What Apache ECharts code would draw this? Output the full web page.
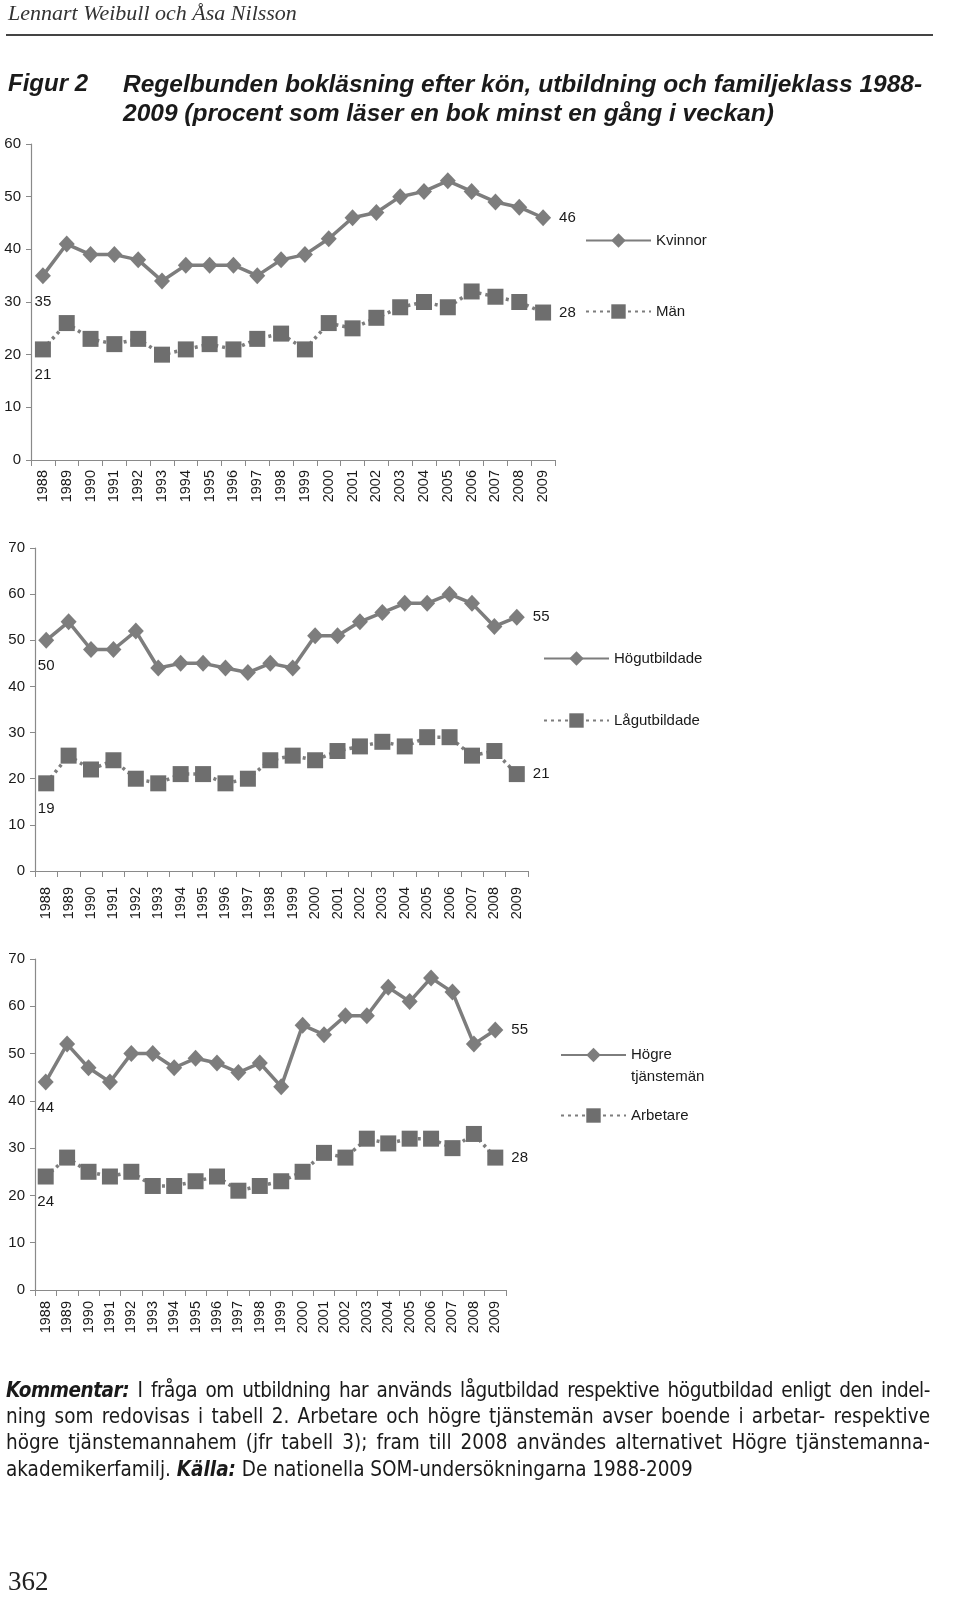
<!DOCTYPE html>
<html>
<head>
<meta charset="utf-8">
<script src="https://cdn.jsdelivr.net/npm/echarts@6/dist/echarts.min.js"></script>
<style>
  html, body { margin:0; padding:0; background:#fff; }
  #page { position:relative; width:960px; height:1609px; overflow:hidden; }
  #chart { position:absolute; left:0; top:0; width:960px; height:1609px; }
  .txt { position:absolute; color:#1a1a1a; }
  #author { left:8px; top:0px; font-family:"Liberation Serif","DejaVu Serif",serif; font-style:italic; font-size:22px; color:#333; }
  #rule { position:absolute; left:6px; top:34px; width:927px; height:2px; background:#444; }
  #fig { left:8px; top:69px; font-family:"Liberation Sans","Arial",sans-serif; font-weight:bold; font-style:italic; font-size:24px; }
  #title { left:123px; top:69px; width:830px; font-family:"Liberation Sans","Arial",sans-serif; font-weight:bold; font-style:italic; font-size:24.5px; line-height:29px; }
  #comment { left:6px; top:1377px; width:924px; font-family:"DejaVu Sans Condensed","Liberation Sans",sans-serif; font-size:20.5px; line-height:26.2px; }
  #comment div { white-space:nowrap; text-align:justify; text-align-last:justify; }
  #comment div.first { letter-spacing:-0.45px; }
  #comment div.last { text-align-last:left; }
  #comment b { font-style:italic; }
  #pageno { left:8px; top:1566px; font-family:"Liberation Serif","DejaVu Serif",serif; font-size:27px; color:#222; }
</style>
</head>
<body>
<div id="page">
  <div id="chart"></div>
  <div id="author" class="txt">Lennart Weibull och Åsa Nilsson</div>
  <div id="rule"></div>
  <div id="fig" class="txt">Figur 2</div>
  <div id="title" class="txt">Regelbunden bokläsning efter kön, utbildning och familjeklass 1988-<br>2009 (procent som läser en bok minst en gång i veckan)</div>
  <div id="comment" class="txt">
    <div class="first"><b>Kommentar:</b> I fråga om utbildning har används lågutbildad respektive högutbildad enligt den indel-</div>
    <div>ning som redovisas i tabell 2. Arbetare och högre tjänstemän avser boende i arbetar- respektive</div>
    <div>högre tjänstemannahem (jfr tabell 3); fram till 2008 användes alternativet Högre tjänstemanna-</div>
    <div class="last">akademikerfamilj. <b>Källa:</b> De nationella SOM-undersökningarna 1988-2009</div>
  </div>
  <div id="pageno" class="txt">362</div>
</div>
<script>
const years = ['1988','1989','1990','1991','1992','1993','1994','1995','1996','1997','1998','1999','2000','2001','2002','2003','2004','2005','2006','2007','2008','2009'];
const kvinnor = [35,41,39,39,38,34,37,37,37,35,38,39,42,46,47,50,51,53,51,49,48,46];
const man = [21,26,23,22,23,20,21,22,21,23,24,21,26,25,27,29,30,29,32,31,30,28];
const hogutbildade = [50,54,48,48,52,44,45,45,44,43,45,44,51,51,54,56,58,58,60,58,53,55];
const lagutbildade = [19,25,22,24,20,19,21,21,19,20,24,25,24,26,27,28,27,29,29,25,26,21];
const hogreTjansteman = [44,52,47,44,50,50,47,49,48,46,48,43,56,54,58,58,64,61,66,63,52,55];
const arbetare = [24,28,25,24,25,22,22,23,24,21,22,23,25,29,28,32,31,32,32,30,33,28];
const yMax = [60, 70, 70];

const LINE = '#7d7d7d';
const MARK = '#6e6e6e';
const FONT = '"Liberation Sans", Arial, sans-serif';

function withEndLabels(arr) {
  const n = arr.length;
  return arr.map((v, i) => {
    if (i === 0) return { value: v, label: { show: true, position: 'bottom', distance: 10 } };
    if (i === n - 1) return { value: v, label: { show: true, position: 'right', distance: 8 } };
    return v;
  });
}

const grids = [
  { left: 31, top: 144, width: 524, height: 316 },
  { left: 35, top: 548, width: 493, height: 323 },
  { left: 35, top: 959, width: 471, height: 331 }
];
const labelMargins = [10, 16, 11];

const xAxes = grids.map((g, i) => ({
  type: 'category', gridIndex: i, data: years, boundaryGap: true,
  axisLine: { lineStyle: { color: '#8a8a8a', width: 1.2 } },
  axisTick: { show: true, length: 6, lineStyle: { color: '#8a8a8a' } },
  axisLabel: { rotate: 90, interval: 0, margin: labelMargins[i], fontSize: 14.5, color: '#1a1a1a', fontFamily: FONT }
}));
const yAxes = grids.map((g, i) => ({
  type: 'value', gridIndex: i, min: 0, max: yMax[i], interval: 10,
  splitLine: { show: false },
  axisLine: { show: true, lineStyle: { color: '#8a8a8a', width: 1.2 } },
  axisTick: { show: true, length: 5, lineStyle: { color: '#8a8a8a' } },
  axisLabel: { margin: 10, fontSize: 15, color: '#1a1a1a', fontFamily: FONT }
}));

function solid(name, data, idx) {
  return {
    name, type: 'line', xAxisIndex: idx, yAxisIndex: idx, data: withEndLabels(data),
    symbol: 'diamond', symbolSize: [16, 17],
    lineStyle: { color: LINE, width: 3.5 },
    itemStyle: { color: LINE },
    label: { show: false, fontSize: 15, color: '#1a1a1a', fontFamily: FONT },
    animation: false, z: 3
  };
}
function dotted(name, data, idx) {
  return {
    name, type: 'line', xAxisIndex: idx, yAxisIndex: idx, data: withEndLabels(data),
    symbol: 'rect', symbolSize: 16,
    lineStyle: { color: LINE, width: 3.5, type: [3, 4] },
    itemStyle: { color: MARK },
    label: { show: false, fontSize: 15, color: '#1a1a1a', fontFamily: FONT },
    animation: false, z: 2
  };
}

const legendBase = {
  orient: 'vertical', itemWidth: 65, itemHeight: 18,
  textStyle: { fontSize: 15, color: '#1a1a1a', fontFamily: FONT },
  selectedMode: false
};

const option = {
  backgroundColor: '#fff',
  animation: false,
  grid: grids,
  xAxis: xAxes,
  yAxis: yAxes,
  legend: [
    Object.assign({}, legendBase, { left: 580, top: 228, itemGap: 56, data: ['Kvinnor', 'Män'] }),
    Object.assign({}, legendBase, { left: 538, top: 646, itemGap: 47, data: ['Högutbildade', 'Lågutbildade'] }),
    Object.assign({}, legendBase, { left: 555, top: 1017, data: ['Högre tjänstemän'],
      formatter: () => '\u00a0\nHögre\ntjänstemän',
      textStyle: { fontSize: 15, color: '#1a1a1a', fontFamily: FONT, lineHeight: 22 } }),
    Object.assign({}, legendBase, { left: 555, top: 1103, data: ['Arbetare'] })
  ],
  series: [
    solid('Kvinnor', kvinnor, 0),
    dotted('Män', man, 0),
    solid('Högutbildade', hogutbildade, 1),
    dotted('Lågutbildade', lagutbildade, 1),
    solid('Högre tjänstemän', hogreTjansteman, 2),
    dotted('Arbetare', arbetare, 2)
  ]
};

const chart = echarts.init(document.getElementById('chart'), null, { renderer: 'canvas' });
chart.setOption(option);
</script>
</body>
</html>
